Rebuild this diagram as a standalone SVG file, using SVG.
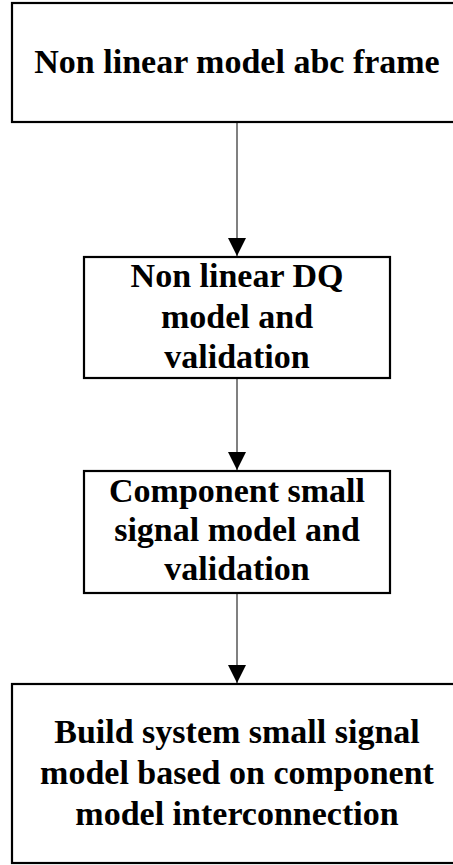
<svg xmlns="http://www.w3.org/2000/svg" width="453" height="865" viewBox="0 0 453 865">
<style>
.box{fill:#fff;stroke:#000;stroke-width:2.2}
.t{font-family:"Liberation Serif","Times New Roman",serif;font-weight:bold;font-size:34px;fill:#000;text-anchor:middle}
.c{stroke:#808080;stroke-width:2;fill:none}
</style>
<defs>
<marker id="ah" markerUnits="userSpaceOnUse" markerWidth="18" markerHeight="18" refX="18" refY="9" orient="auto">
<path d="M0,0 L18,9 L0,18 Z" fill="#000"/>
</marker>
</defs>
<rect width="453" height="865" fill="#fff"/>
<g id="connectors">
<line class="c" x1="237" y1="123" x2="237" y2="256" marker-end="url(#ah)"/>
<line class="c" x1="237" y1="379" x2="237" y2="470" marker-end="url(#ah)"/>
<line class="c" x1="237" y1="594" x2="237" y2="683" marker-end="url(#ah)"/>
</g>
<g id="node1">
<rect class="box" x="12" y="3" width="450" height="119" stroke-width="2.8"/>
<text class="t" x="237" y="73">Non linear model abc frame</text>
</g>
<g id="node2">
<rect class="box" x="84" y="257" width="306" height="121"/>
<text class="t" x="237" y="287">Non linear DQ</text>
<text class="t" x="237" y="328">model and</text>
<text class="t" x="237" y="368">validation</text>
</g>
<g id="node3">
<rect class="box" x="84" y="471" width="306" height="122"/>
<text class="t" x="237" y="502">Component small</text>
<text class="t" x="237" y="541">signal model and</text>
<text class="t" x="237" y="580">validation</text>
</g>
<g id="node4">
<rect class="box" x="12" y="684" width="450" height="179"/>
<text class="t" x="237" y="743">Build system small signal</text>
<text class="t" x="237" y="784">model based on component</text>
<text class="t" x="237" y="825">model interconnection</text>
</g>
</svg>
